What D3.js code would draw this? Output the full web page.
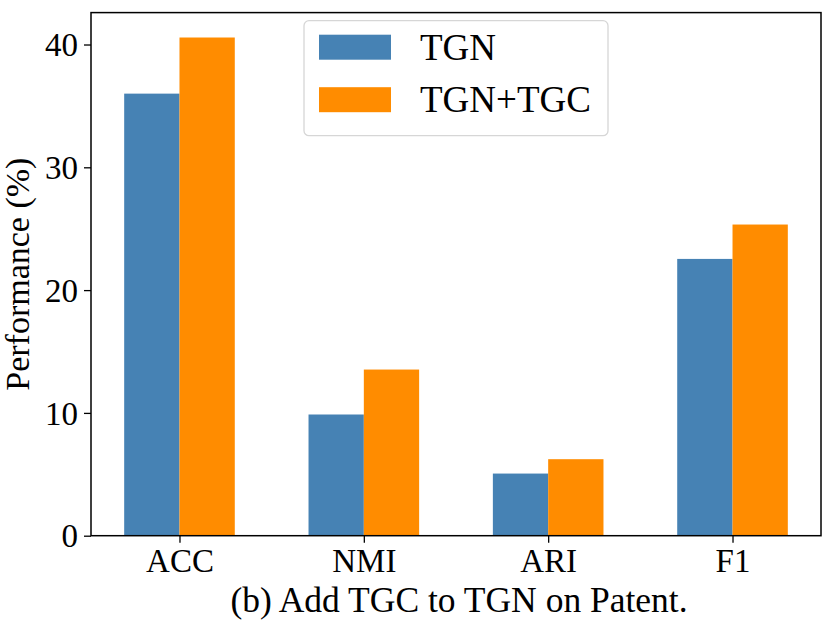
<!DOCTYPE html>
<html>
<head>
<meta charset="utf-8">
<script src="https://cdn.jsdelivr.net/npm/d3@7"></script>
<style>
  html, body { margin: 0; padding: 0; background: #fff; overflow: hidden; }
  svg { display: block; }
  text { font-family: "Liberation Serif", "DejaVu Serif", serif; fill: #000; }
</style>
</head>
<body>
<svg id="chart"></svg>
<script>
let categories = ['ACC', 'NMI', 'ARI', 'F1']
let seriesNames = ['TGN', 'TGN+TGC']
let tgnValues = [36.0, 9.87, 5.06, 22.54]
let tgcValues = [40.57, 13.53, 6.23, 25.34]
let yTicks = [0, 10, 20, 30, 40]

let colors = ['#4682b4', '#ff8c00']
let serif = 'Liberation Serif, DejaVu Serif, serif'
let width = 830
let height = 623
let plotLeft = 91
let plotRight = 821
let plotTop = 12.6
let plotBottom = 535.7
let barWidth = 0.3

let svg = d3.select('#chart').attr('width', width).attr('height', height)

let xScale = d3.scaleLinear()
  .domain([-0.48, 3.48])
  .range([plotLeft, plotRight])

let yMax = d3.max(tgcValues.concat(tgnValues)) * 1.05
let yScale = d3.scaleLinear()
  .domain([0, yMax])
  .range([plotBottom, plotTop])

let drawBars = () => {
  let series = [tgnValues, tgcValues]
  series.forEach((values, s) => {
    svg.append('g')
      .selectAll('rect')
      .data(values)
      .enter()
      .append('rect')
      .attr('x', (d, i) => xScale(i + (s === 0 ? -barWidth : 0)))
      .attr('width', xScale(barWidth) - xScale(0))
      .attr('y', (d) => yScale(d))
      .attr('height', (d) => yScale(0) - yScale(d))
      .attr('fill', colors[s])
  })
}

let drawAxis = () => {
  let xAxis = d3.axisBottom(xScale)
    .tickValues(d3.range(categories.length))
    .tickFormat((d) => categories[d])
    .tickSizeOuter(0)
    .tickSize(7)
    .tickPadding(6)
  let yAxis = d3.axisLeft(yScale)
    .tickValues(yTicks)
    .tickSizeOuter(0)
    .tickSize(7)
    .tickPadding(6)

  let gx = svg.append('g')
    .attr('transform', 'translate(0,' + plotBottom + ')')
    .call(xAxis)
    .attr('font-family', serif)
  gx.select('.domain').remove()
  gx.selectAll('line').attr('stroke', '#000').attr('stroke-width', 1.3)
  gx.selectAll('text').attr('font-size', 33)

  let gy = svg.append('g')
    .attr('transform', 'translate(' + plotLeft + ',0)')
    .call(yAxis)
    .attr('font-family', serif)
  gy.select('.domain').remove()
  gy.selectAll('line').attr('stroke', '#000').attr('stroke-width', 1.3)
  gy.selectAll('text').attr('font-size', 33).attr('dy', '0.34em')

  // frame
  svg.append('rect')
    .attr('x', plotLeft)
    .attr('y', plotTop)
    .attr('width', plotRight - plotLeft)
    .attr('height', plotBottom - plotTop)
    .attr('fill', 'none')
    .attr('stroke', '#000')
    .attr('stroke-width', 1.5)

  svg.append('text')
    .attr('transform', 'translate(29,' + ((plotTop + plotBottom) / 2) + ') rotate(-90)')
    .attr('text-anchor', 'middle')
    .attr('font-family', serif)
    .attr('font-size', 34)
    .text('Performance (%)')

  svg.append('text')
    .attr('x', 459)
    .attr('y', 612)
    .attr('text-anchor', 'middle')
    .attr('font-family', serif)
    .attr('font-size', 35.5)
    .text('(b) Add TGC to TGN on Patent.')
}

let drawLegend = () => {
  let g = svg.append('g')
  g.append('rect')
    .attr('x', 304)
    .attr('y', 20.7)
    .attr('width', 304)
    .attr('height', 115)
    .attr('rx', 5)
    .attr('fill', '#fff')
    .attr('fill-opacity', 0.8)
    .attr('stroke', '#d6d6d6')
    .attr('stroke-width', 1.3)
  seriesNames.forEach((name, i) => {
    g.append('rect')
      .attr('x', 319)
      .attr('y', 34.7 + i * 52.5)
      .attr('width', 72)
      .attr('height', 25)
      .attr('fill', colors[i])
    g.append('text')
      .attr('x', 420)
      .attr('y', 60 + i * 52)
      .attr('font-family', serif)
      .attr('font-size', 37)
      .text(name)
  })
}

drawBars()
drawAxis()
drawLegend()
</script>
</body>
</html>
